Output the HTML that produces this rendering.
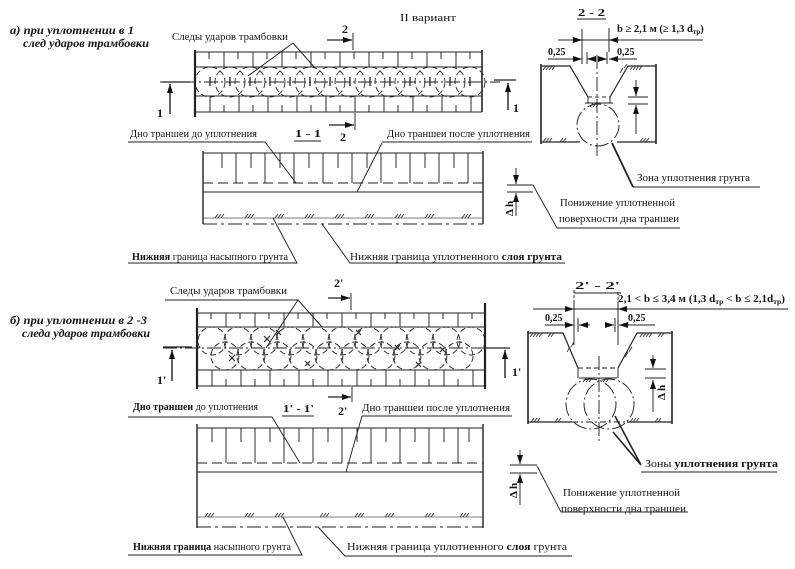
<!DOCTYPE html>
<html><head><meta charset="utf-8">
<style>
html,body{margin:0;padding:0;background:#fff;}
svg{display:block;}
text{font-family:"Liberation Serif","DejaVu Serif",serif;fill:#151515;}
.l{stroke:#222;stroke-width:0.95;fill:none;}
.d{stroke-dasharray:6 3;}
.dd{stroke-dasharray:14 3 2 3;}
.h{stroke:#333;stroke-width:0.9;fill:none;}
</style></head><body>
<svg width="795" height="569" viewBox="0 0 795 569" xmlns="http://www.w3.org/2000/svg">
<defs>
<marker id="a" markerWidth="9" markerHeight="6" refX="9" refY="3" orient="auto" markerUnits="userSpaceOnUse"><path d="M0,0L9,3L0,6z" fill="#111"/></marker>
</defs>

<!-- ===================== TOP (a) ===================== -->
<text x="400" y="21" font-size="11" textLength="56" lengthAdjust="spacingAndGlyphs">II вариант</text>
<text x="10" y="34" font-size="12" font-weight="bold" font-style="italic" textLength="124" lengthAdjust="spacingAndGlyphs">а) при уплотнении в 1</text>
<text x="23" y="47" font-size="12" font-weight="bold" font-style="italic" textLength="126" lengthAdjust="spacingAndGlyphs">след ударов трамбовки</text>
<text x="172" y="40" font-size="11" textLength="116" lengthAdjust="spacingAndGlyphs">Следы ударов трамбовки</text>

<g class="l">
<line x1="195" y1="50" x2="195" y2="117" stroke-width="2.2"/>
<line x1="482" y1="50" x2="482" y2="112" stroke-width="1.6"/>
<path d="M195 52H482M195 67H482M195 96H482M195 112H482"/>
<path d="M224 52V67M253 52V67M282 52V67M311 52V67M340 52V67M369 52V67M398 52V67M427 52V67M456 52V67"/>
<path d="M209 52v7M238 52v7M267 52v7M296 52v7M325 52v7M354 52v7M383 52v7M412 52v7M441 52v7M470 52v7"/>
<path d="M210 96V112M239 96V112M268 96V112M297 96V112M326 96V112M355 96V112M384 96V112M413 96V112M442 96V112M471 96V112"/>
<path d="M224 105v7M253 105v7M282 105v7M311 105v7M340 105v7M369 105v7M398 105v7M427 105v7M456 105v7"/>
<g class="d" stroke-width="0.9">
<circle cx="210" cy="82" r="15"/><circle cx="230" cy="82" r="15"/><circle cx="250" cy="82" r="15"/><circle cx="270" cy="82" r="15"/>
<circle cx="290" cy="82" r="15"/><circle cx="310" cy="82" r="15"/><circle cx="330" cy="82" r="15"/><circle cx="350" cy="82" r="15"/>
<circle cx="370" cy="82" r="15"/><circle cx="390" cy="82" r="15"/><circle cx="410" cy="82" r="15"/><circle cx="430" cy="82" r="15"/>
<circle cx="450" cy="82" r="15"/><circle cx="470" cy="82" r="15"/>
</g>
<path d="M210 77v9M230 77v9M250 77v9M270 77v9M290 77v9M310 77v9M330 77v9M350 77v9M370 77v9M390 77v9M410 77v9M430 77v9M450 77v9M470 77v9" stroke-width="1.3"/>
<line x1="160" y1="82" x2="500" y2="82" class="dd"/>
<path d="M163 82H190" stroke-width="1.3"/>
<line x1="170" y1="114" x2="170" y2="84" stroke-width="1.4" marker-end="url(#a)"/>
<path d="M494 80H516" stroke-width="1.3"/>
<line x1="508" y1="110" x2="508" y2="83" stroke-width="1.4" marker-end="url(#a)"/>
<path d="M353 33V50"/>
<line x1="327" y1="40" x2="352" y2="40" stroke-width="1.3" marker-end="url(#a)"/>
<path d="M355 113V130"/>
<line x1="329" y1="125" x2="354" y2="125" stroke-width="1.3" marker-end="url(#a)"/>
<path d="M293 43L248 76M293 43L315 68"/>
</g>
<text x="157" y="117" font-size="12" font-weight="bold">1</text>
<text x="513" y="112" font-size="12" font-weight="bold">1</text>
<text x="342" y="33" font-size="12" font-weight="bold">2</text>
<text x="340" y="141" font-size="12" font-weight="bold">2</text>

<!-- section 2-2 -->
<text x="578" y="16" font-size="11" font-weight="bold" textLength="27" lengthAdjust="spacingAndGlyphs">2 - 2</text>
<text x="617" y="32" font-size="10.5" font-weight="bold">b ≥ 2,1 м (≥ 1,3 d<tspan font-size="7" dy="2">тр</tspan><tspan dy="-2">)</tspan></text>
<text x="548" y="55" font-size="10" font-weight="bold">0,25</text>
<text x="617" y="55" font-size="10" font-weight="bold">0,25</text>
<g class="l">
<path d="M577 19H606"/>
<path d="M558 40H703"/>
<line x1="560" y1="40" x2="582" y2="40" marker-end="url(#a)"/>
<line x1="640" y1="40" x2="609" y2="40" marker-end="url(#a)"/>
<path d="M582 29V64M609 28V52M587 52V64M607 52V64"/>
<line x1="548" y1="59" x2="582" y2="59" marker-end="url(#a)"/>
<line x1="596" y1="59" x2="587" y2="59" marker-end="url(#a)"/>
<line x1="600" y1="59" x2="607" y2="59" marker-end="url(#a)"/>
<line x1="637" y1="59" x2="609" y2="59" marker-end="url(#a)"/>
<line x1="597" y1="55" x2="597" y2="156" class="dd"/>
<path d="M541 64V144M656 64V144" stroke-width="1.6"/>
<path d="M541 66H570L588 97M656 66H628L610 97" stroke-width="1.2"/>
<path d="M588 97V103M610 97V103"/>
<line x1="588" y1="97" x2="610" y2="97" stroke-dasharray="4 3"/>
<path d="M585 103H613"/>
<path d="M541 142H580M617 142H656" stroke-width="1.2"/>
<circle cx="598" cy="125" r="21" class="dd"/>
<path d="M612 143L633 187" stroke-width="1.8"/>
<path d="M633 187H760"/>
<line x1="636" y1="80" x2="636" y2="96" marker-end="url(#a)"/>
<path d="M628 97H648M628 104H648"/>
<line x1="636" y1="134" x2="636" y2="105" marker-end="url(#a)"/>
</g>
<path class="h" d="M543 70l3-4m0 4l3-4m0 4l3-4m0 4l3-4M630 70l3-4m0 4l3-4m0 4l3-4m0 4l3-4M543 142l3-4m0 4l3-4m0 4l3-4M560 142l3-4m0 4l3-4M640 142l3-4m0 4l3-4m0 4l3-4M590 107l3-4m0 4l3-4m0 4l3-4M620 73l3-5M624 68l3-4"/>
<text x="637" y="181" font-size="11" textLength="113" lengthAdjust="spacingAndGlyphs">Зона уплотнения грунта</text>

<!-- section 1-1 -->
<text x="130" y="137" font-size="11" textLength="127" lengthAdjust="spacingAndGlyphs">Дно траншеи до уплотнения</text>
<text x="295" y="137" font-size="11" font-weight="bold" textLength="26" lengthAdjust="spacingAndGlyphs">1 - 1</text>
<text x="387" y="137" font-size="11" textLength="143" lengthAdjust="spacingAndGlyphs">Дно траншеи после уплотнения</text>
<g class="l">
<path d="M294 141H321"/>
<path d="M128 142H265L296 183M382 142H532M382 143L357 192"/>
<path d="M203 151V224M483 151V224" stroke-width="1.4"/>
<path d="M203 153H483"/>
<path d="M222 153v15M251 153v15M280 153v15M309 153v15M338 153v15M367 153v15M396 153v15M425 153v15M454 153v15"/>
<path d="M236 153V183M265 153V183M294 153V183M323 153V183M352 153V183M381 153V183M410 153V183M439 153V183M468 153V183"/>
<line x1="203" y1="183" x2="483" y2="183" stroke-dasharray="10 5"/>
<path d="M203 192H483"/>
<path d="M203 218H483" stroke="#555" stroke-width="0.8"/>
<line x1="203" y1="224" x2="483" y2="224" stroke-dasharray="14 4 3 4"/>
<line x1="516" y1="168" x2="516" y2="184" marker-end="url(#a)"/>
<path d="M507 185H533M507 192H533"/>
<line x1="516" y1="216" x2="516" y2="193" marker-end="url(#a)"/>
<path d="M533 185L557 228H680"/>
<path d="M128 263H297L273 218M565 263H350L322 224"/>
</g>
<path class="h" d="M215 218l3-4m0 4l3-4m0 4l3-4M245 218l3-4m0 4l3-4m0 4l3-4M275 218l3-4m0 4l3-4m0 4l3-4M305 218l3-4m0 4l3-4m0 4l3-4M335 218l3-4m0 4l3-4m0 4l3-4M365 218l3-4m0 4l3-4m0 4l3-4M395 218l3-4m0 4l3-4m0 4l3-4M425 218l3-4m0 4l3-4m0 4l3-4M462 218l3-4m0 4l3-4m0 4l3-4"/>
<text transform="translate(513,216) rotate(-90)" font-size="11" font-weight="bold">Δ h</text>
<text x="560" y="206" font-size="11" textLength="115" lengthAdjust="spacingAndGlyphs">Понижение уплотненной</text>
<text x="559" y="222" font-size="11" textLength="120" lengthAdjust="spacingAndGlyphs">поверхности дна траншеи</text>
<text x="132" y="260" font-size="11" textLength="156" lengthAdjust="spacingAndGlyphs"><tspan font-weight="bold">Нижняя</tspan> граница насыпного грунта</text>
<text x="350" y="260" font-size="11" textLength="212" lengthAdjust="spacingAndGlyphs">Нижняя граница уплотненного <tspan font-weight="bold">слоя грунта</tspan></text>

<!-- ===================== BOTTOM (б) ===================== -->
<text x="10" y="324" font-size="12" font-weight="bold" font-style="italic" textLength="137" lengthAdjust="spacingAndGlyphs">б) при уплотнении в 2 -3</text>
<text x="22" y="337" font-size="12" font-weight="bold" font-style="italic" textLength="128" lengthAdjust="spacingAndGlyphs">следа ударов трамбовки</text>
<text x="170" y="294" font-size="11" textLength="117" lengthAdjust="spacingAndGlyphs">Следы ударов трамбовки</text>

<g class="l">
<path d="M165 300H298L266 348M298 300L322 327"/>
<line x1="197" y1="308" x2="197" y2="389" stroke-width="2.2"/>
<line x1="485" y1="303" x2="485" y2="389" stroke-width="2.2"/>
<path d="M197 313H485M197 327H485M197 370H485M197 386H485"/>
<path d="M226 313V327M255 313V327M284 313V327M313 313V327M342 313V327M371 313V327M400 313V327M429 313V327M458 313V327"/>
<path d="M211 313v6M240 313v6M269 313v6M298 313v6M327 313v6M356 313v6M385 313v6M414 313v6M443 313v6M472 313v6"/>
<path d="M212 370V386M241 370V386M270 370V386M299 370V386M328 370V386M357 370V386M386 370V386M415 370V386M444 370V386M473 370V386"/>
<path d="M226 379v7M255 379v7M284 379v7M313 379v7M342 379v7M371 379v7M400 379v7M429 379v7M458 379v7"/>
<g class="d" stroke-width="0.9">
<circle cx="212" cy="341" r="14"/><circle cx="238" cy="341" r="14"/><circle cx="264" cy="341" r="14"/><circle cx="290" cy="341" r="14"/>
<circle cx="316" cy="341" r="14"/><circle cx="342" cy="341" r="14"/><circle cx="368" cy="341" r="14"/><circle cx="394" cy="341" r="14"/>
<circle cx="420" cy="341" r="14"/><circle cx="446" cy="341" r="14"/><circle cx="471" cy="341" r="14"/>
<circle cx="225" cy="356" r="14"/><circle cx="251" cy="356" r="14"/><circle cx="277" cy="356" r="14"/><circle cx="303" cy="356" r="14"/>
<circle cx="329" cy="356" r="14"/><circle cx="355" cy="356" r="14"/><circle cx="381" cy="356" r="14"/><circle cx="407" cy="356" r="14"/>
<circle cx="433" cy="356" r="14"/><circle cx="459" cy="356" r="14"/>
</g>
<path d="M229 355l6 6m0-6l-6 6M264 336l6 6m0-6l-6 6M305 361l5 5m0-5l-5 5M395 345l5 5m0-5l-5 5M440 347l5 5m0-5l-5 5M276 330l5 5m0-5l-5 5M356 330l5 5m0-5l-5 5M416 362l5 5m0-5l-5 5" stroke-width="1.2"/>
<line x1="163" y1="348" x2="510" y2="348" class="dd"/>
<path d="M163 347H192" stroke-width="1.3"/>
<line x1="172" y1="381" x2="172" y2="350" stroke-width="1.4" marker-end="url(#a)"/>
<path d="M486 348H510" stroke-width="1.3"/>
<line x1="505" y1="378" x2="505" y2="350" stroke-width="1.4" marker-end="url(#a)"/>
<path d="M351 293V310"/>
<line x1="328" y1="298" x2="350" y2="298" stroke-width="1.3" marker-end="url(#a)"/>
<path d="M352 387V402"/>
<line x1="328" y1="397" x2="351" y2="397" stroke-width="1.3" marker-end="url(#a)"/>
</g>
<text x="157" y="384" font-size="12" font-weight="bold">1'</text>
<text x="512" y="376" font-size="12" font-weight="bold">1'</text>
<text x="334" y="287" font-size="12" font-weight="bold">2'</text>
<text x="338" y="415" font-size="12" font-weight="bold">2'</text>

<!-- section 2'-2' -->
<text x="575" y="289" font-size="11" font-weight="bold" textLength="45" lengthAdjust="spacingAndGlyphs">2' - 2'</text>
<text x="618" y="302" font-size="11" font-weight="bold" textLength="167" lengthAdjust="spacingAndGlyphs">2,1 &lt; b ≤ 3,4 м (1,3 d<tspan font-size="7.5" dy="2">тр</tspan><tspan dy="-2"> &lt; b ≤ 2,1d</tspan><tspan font-size="7.5" dy="2">тр</tspan><tspan dy="-2">)</tspan></text>
<text x="545" y="321" font-size="10" font-weight="bold">0,25</text>
<text x="628" y="321" font-size="10" font-weight="bold">0,25</text>
<g class="l">
<path d="M574 293H621"/>
<path d="M533 309H788"/>
<line x1="540" y1="309" x2="574" y2="309" marker-end="url(#a)"/>
<line x1="650" y1="309" x2="618" y2="309" marker-end="url(#a)"/>
<path d="M574 300V345M618 302V345M578 318V332M615 318V332"/>
<path d="M574 290V300M618 292V302" stroke-dasharray="3 2"/>
<line x1="545" y1="325" x2="574" y2="325" marker-end="url(#a)"/>
<line x1="590" y1="325" x2="579" y2="325" marker-end="url(#a)"/>
<line x1="605" y1="325" x2="614" y2="325" marker-end="url(#a)"/>
<line x1="655" y1="325" x2="619" y2="325" marker-end="url(#a)"/>
<path d="M528 331V424M672 331V424" stroke-width="1.6"/>
<path d="M528 333H563L578 368M672 333H637L618 368" stroke-width="1.2"/>
<path d="M578 368V378M618 368V378"/>
<line x1="578" y1="368" x2="618" y2="368" stroke-dasharray="5 3"/>
<path d="M579 378H617"/>
<path d="M528 422H572M627 422H672" stroke-width="1.2"/>
<line x1="572" y1="422" x2="627" y2="422" stroke-dasharray="6 3 2 3"/>
<circle cx="591" cy="404" r="25" class="dd"/>
<circle cx="609" cy="404" r="25" class="dd"/>
<line x1="599" y1="356" x2="599" y2="444" class="dd"/>
<path d="M615 416L641 465M613 432L641 465" stroke-width="1.6"/>
<path d="M641 472H777"/>
<line x1="653" y1="355" x2="653" y2="368" marker-end="url(#a)"/>
<path d="M645 369H666M645 378H666"/>
<line x1="653" y1="412" x2="653" y2="380" marker-end="url(#a)"/>
</g>
<path class="h" d="M530 337l3-4m0 4l3-4m0 4l3-4m0 4l3-4M548 337l3-4m0 4l3-4M640 337l3-4m0 4l3-4m0 4l3-4m0 4l3-4M658 337l3-4m0 4l3-4M531 422l3-4m0 4l3-4m0 4l3-4M555 422l3-4m0 4l3-4M630 422l3-4m0 4l3-4m0 4l3-4M655 422l3-4m0 4l3-4M583 382l3-4m0 4l3-4m0 4l3-4M603 382l3-4m0 4l3-4M567 352l3-5M571 347l3-5M629 352l3-5M625 357l3-5"/>
<text transform="translate(665,400) rotate(-90)" font-size="11" font-weight="bold">Δ h</text>
<text x="645" y="467" font-size="11" textLength="133" lengthAdjust="spacingAndGlyphs">Зоны <tspan font-weight="bold">уплотнения грунта</tspan></text>

<!-- section 1'-1' -->
<text x="133" y="410" font-size="11" textLength="125" lengthAdjust="spacingAndGlyphs"><tspan font-weight="bold">Дно траншеи</tspan> до уплотнения</text>
<text x="283" y="412" font-size="11" font-weight="bold" textLength="31" lengthAdjust="spacingAndGlyphs">1' - 1'</text>
<text x="362" y="411" font-size="11" textLength="148" lengthAdjust="spacingAndGlyphs">Дно траншеи после уплотнения</text>
<g class="l">
<path d="M282 416H314"/>
<path d="M128 417H272L300 463M362 416H512M362 416L346 472"/>
<path d="M197 424V528M483 424V528" stroke-width="1.4"/>
<path d="M197 428H483"/>
<path d="M212 428v14M241 428v14M270 428v14M299 428v14M328 428v14M357 428v14M386 428v14M415 428v14M444 428v14M469 428v14"/>
<path d="M226 428V463M255 428V463M284 428V463M313 428V463M342 428V463M371 428V463M400 428V463M429 428V463M458 428V463"/>
<line x1="197" y1="463" x2="483" y2="463" stroke-dasharray="10 5"/>
<path d="M197 472H483"/>
<path d="M197 517H483" stroke="#555" stroke-width="0.8"/>
<line x1="197" y1="527" x2="483" y2="527" stroke-dasharray="14 4 3 4"/>
<line x1="520" y1="450" x2="520" y2="464" marker-end="url(#a)"/>
<path d="M510 465H537M510 473H537"/>
<line x1="520" y1="505" x2="520" y2="474" marker-end="url(#a)"/>
<path d="M537 466L561 512H688"/>
<path d="M128 555H302L283 517M572 556H345L318 527"/>
</g>
<path class="h" d="M205 517l3-4m0 4l3-4m0 4l3-4M245 517l3-4m0 4l3-4m0 4l3-4M275 517l3-4m0 4l3-4m0 4l3-4M320 517l3-4m0 4l3-4m0 4l3-4M355 517l3-4m0 4l3-4m0 4l3-4M385 517l3-4m0 4l3-4m0 4l3-4M425 517l3-4m0 4l3-4m0 4l3-4M460 517l3-4m0 4l3-4m0 4l3-4"/>
<text transform="translate(517,498) rotate(-90)" font-size="11" font-weight="bold">Δ h</text>
<text x="563" y="496" font-size="11" textLength="117" lengthAdjust="spacingAndGlyphs">Понижение уплотненной</text>
<text x="561" y="512" font-size="11" textLength="125" lengthAdjust="spacingAndGlyphs">поверхности дна траншеи</text>
<text x="133" y="550" font-size="11" textLength="158" lengthAdjust="spacingAndGlyphs"><tspan font-weight="bold">Нижняя граница</tspan> насыпного грунта</text>
<text x="347" y="550" font-size="11" textLength="220" lengthAdjust="spacingAndGlyphs">Нижняя граница уплотненного <tspan font-weight="bold">слоя</tspan> грунта</text>
</svg>
</body></html>
